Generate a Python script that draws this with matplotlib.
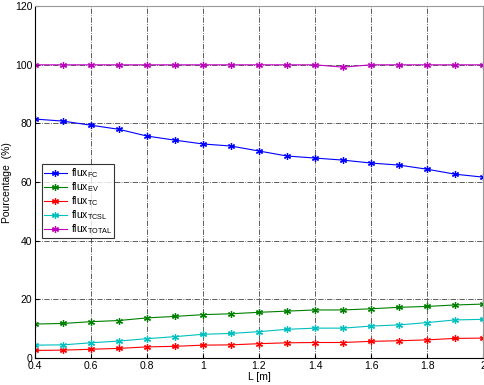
import matplotlib
matplotlib.use("Agg")
import matplotlib.pyplot as plt

plt.rcParams['font.family'] = ['Liberation Sans', 'DejaVu Sans']
plt.rcParams['mathtext.fontset'] = 'custom'
plt.rcParams['mathtext.rm'] = 'Liberation Sans'
plt.rcParams['mathtext.it'] = 'Liberation Sans'

L = [0.4, 0.5, 0.6, 0.7, 0.8, 0.9, 1.0, 1.1, 1.2, 1.3, 1.4, 1.5, 1.6, 1.7, 1.8, 1.9, 2.0]
flux_FC = [81.5, 80.8, 79.4, 78.0, 75.7, 74.3, 73.0, 72.3, 70.6, 68.9, 68.2, 67.5, 66.5, 65.8, 64.4, 62.7, 61.7]
flux_EV = [11.6, 11.8, 12.4, 12.8, 13.7, 14.2, 14.8, 15.1, 15.6, 16.0, 16.4, 16.4, 16.8, 17.3, 17.6, 18.1, 18.4]
flux_TC = [2.6, 2.7, 3.0, 3.3, 3.8, 4.0, 4.4, 4.5, 4.9, 5.2, 5.3, 5.3, 5.7, 5.9, 6.2, 6.7, 6.8]
flux_TCSL = [4.4, 4.5, 5.2, 5.8, 6.6, 7.3, 8.1, 8.4, 9.0, 9.8, 10.2, 10.2, 10.9, 11.3, 12.1, 13.0, 13.2]
flux_TOTAL = [100, 100, 100, 100, 100, 100, 100, 100, 100, 100, 100, 99.2, 100, 100, 100, 100, 100]

labels = [r'flux$_{\rm FC}$', r'flux$_{\rm EV}$', r'flux$_{\rm TC}$', r'flux$_{\rm TCSL}$', r'flux$_{\rm TOTAL}$']
colors = ['#0000ff', '#008000', '#ff0000', '#00bfbf', '#bf00bf']
series = [flux_FC, flux_EV, flux_TC, flux_TCSL, flux_TOTAL]

fig = plt.figure(figsize=(4.84, 3.85), dpi=100)
ax = fig.add_axes([0.0723, 0.070, 0.9257, 0.914])

for y, c, lab in zip(series, colors, labels):
    ax.plot(L, y, color=c, lw=0.8, marker=(6, 2, 0), ms=5, mew=0.9, label=lab)

ax.set_xlim(0.4, 2.0)
ax.set_ylim(0, 120)
ax.set_xticks([0.4, 0.6, 0.8, 1.0, 1.2, 1.4, 1.6, 1.8, 2.0])
ax.set_xticklabels(['0.4', '0.6', '0.8', '1', '1.2', '1.4', '1.6', '1.8', '2'])
ax.set_yticks([0, 20, 40, 60, 80, 100, 120])
ax.grid(True, linestyle='-.', color='#444444', lw=0.6)
ax.tick_params(direction='in', labelsize=7.5, length=3, pad=2)
for s in ax.spines.values():
    s.set_linewidth(0.8)
ax.spines['top'].set_color('#999999')
ax.spines['right'].set_color('#999999')

ax.set_xlabel('L [m]', fontsize=7.5, labelpad=1)
ax.set_ylabel('Pourcentage  (%)', fontsize=7.5, labelpad=2)

leg = ax.legend(loc='upper left', bbox_to_anchor=(0.003, 0.565), fontsize=7.5,
                frameon=True, fancybox=False, edgecolor='black', borderpad=0.2,
                labelspacing=0.02, handlelength=2.2, handletextpad=0.4)
leg.get_frame().set_linewidth(0.8)

fig.savefig('out.png', dpi=100)
